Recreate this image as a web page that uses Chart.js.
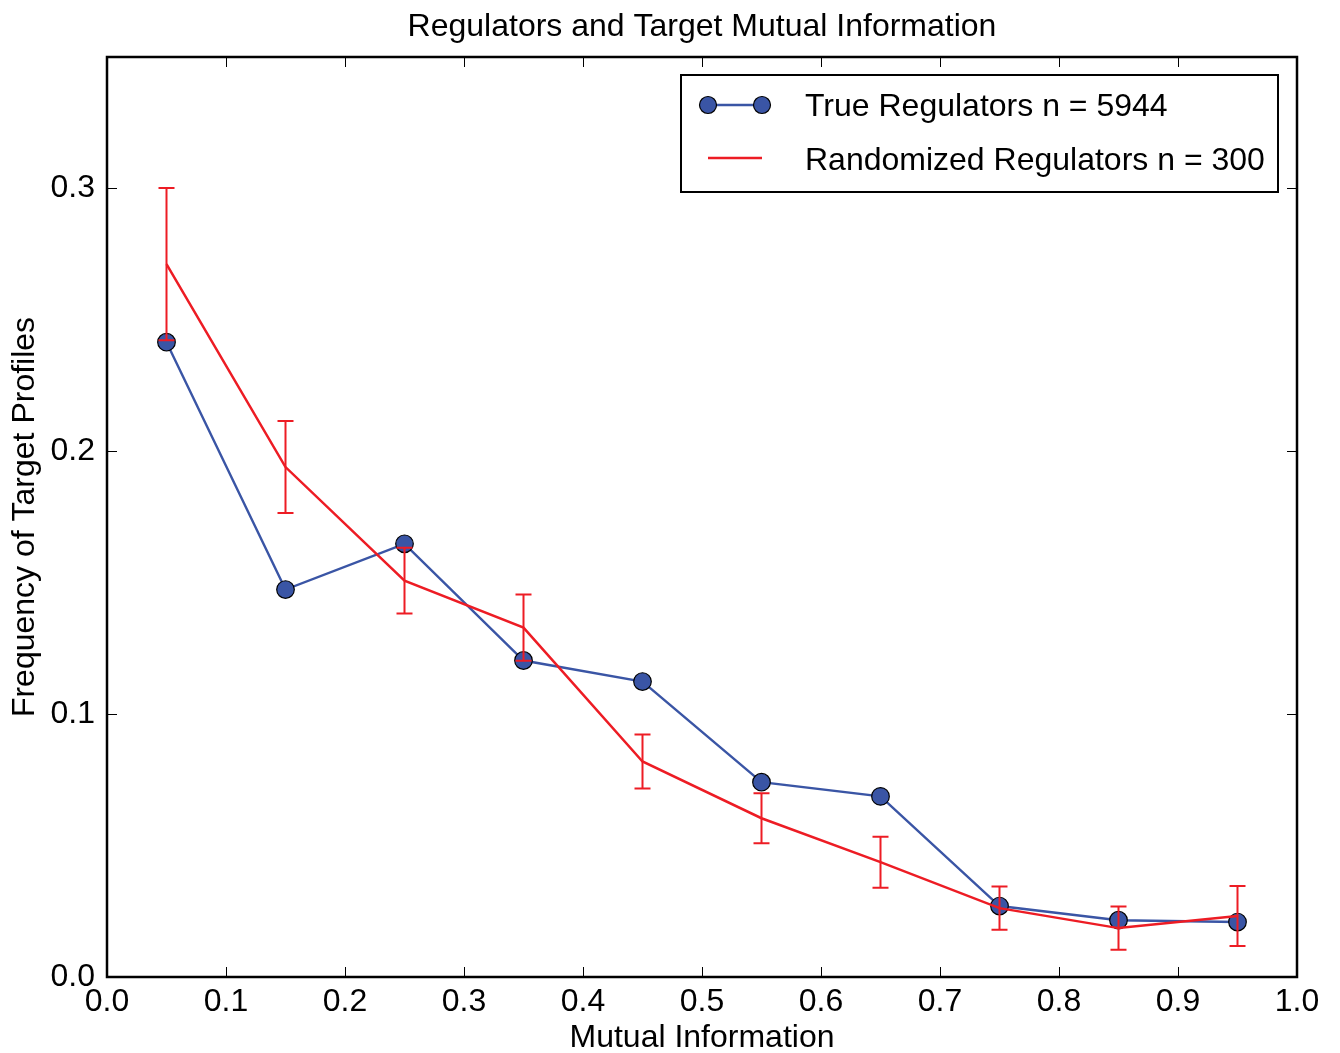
<!DOCTYPE html>
<html>
<head>
<meta charset="utf-8">
<title>Regulators and Target Mutual Information</title>
<script src="https://cdn.jsdelivr.net/npm/chart.js@4.4.1/dist/chart.umd.min.js"></script>
<style>
    html, body { margin: 0; padding: 0; background: #fff; }
    #wrap { width: 1340px; height: 1053px; }
</style>
</head>
<body>
<div id="wrap"><canvas id="chart" width="1340" height="1053"></canvas></div>
<script>
// bin centres on the x axis
const mutualInfo = [0.05, 0.15, 0.25, 0.35, 0.45, 0.55, 0.65, 0.75, 0.85, 0.95];

// true regulators (blue, with markers)
const trueFreq = [0.2415, 0.1474, 0.1648, 0.1204, 0.1124, 0.0741, 0.0687, 0.0270, 0.0216, 0.0209];

// randomized regulators (red) and their error bar half widths
const randomFreq = [0.2712, 0.1940, 0.1508, 0.1329, 0.0820, 0.0604, 0.0437, 0.0262, 0.0186, 0.0232];
const randomErr = [0.0290, 0.0175, 0.0125, 0.0126, 0.0103, 0.0095, 0.0097, 0.0082, 0.0082, 0.0114];

const xTicks = [0.0, 0.1, 0.2, 0.3, 0.4, 0.5, 0.6, 0.7, 0.8, 0.9, 1.0];
const yTicks = [0.0, 0.1, 0.2, 0.3];

const chartTitle = 'Regulators and Target Mutual Information';
const trueLabel = 'True Regulators n = 5944';
const randomLabel = 'Randomized Regulators n = 300';

const FONT = '"Liberation Sans", Arial, Helvetica, sans-serif';
const FSIZE = 32;
const BLUE = '#3a55a5';
const RED = '#ed1c24';

const points = (ys) => mutualInfo.map((x, i) => ({ x: x, y: ys[i] }));

// matplotlib-like inner ticks on all four sides, plus frame and title
const innerTicks = {
    id: 'innerTicks',
    afterDraw(chart) {
        const { ctx, chartArea: a, scales } = chart;
        const len = 10;
        ctx.save();
        ctx.strokeStyle = '#000';
        ctx.lineWidth = 1;
        ctx.beginPath();
        scales.x.ticks.forEach(t => {
            const px = Math.round(scales.x.getPixelForValue(t.value)) + 0.5;
            ctx.moveTo(px, a.bottom); ctx.lineTo(px, a.bottom - len);
            ctx.moveTo(px, a.top); ctx.lineTo(px, a.top + len);
        });
        scales.y.ticks.forEach(t => {
            const py = Math.round(scales.y.getPixelForValue(t.value)) + 0.5;
            ctx.moveTo(a.left, py); ctx.lineTo(a.left + len, py);
            ctx.moveTo(a.right, py); ctx.lineTo(a.right - len, py);
        });
        ctx.stroke();
        ctx.lineWidth = 2.5;
        ctx.strokeRect(a.left, a.top, a.right - a.left, a.bottom - a.top);

        ctx.fillStyle = '#000';
        ctx.font = FSIZE + 'px ' + FONT;
        ctx.textAlign = 'center';
        ctx.textBaseline = 'middle';
        ctx.fillText(chartTitle, (a.left + a.right) / 2, 27);
        ctx.restore();
    }
};

// error bars for the randomized series
const errorBars = {
    id: 'errorBars',
    afterDatasetsDraw(chart) {
        const { ctx, scales } = chart;
        const cap = 8;
        ctx.save();
        ctx.strokeStyle = RED;
        ctx.lineWidth = 2;
        ctx.beginPath();
        mutualInfo.forEach((x, i) => {
            const px = scales.x.getPixelForValue(x);
            const top = scales.y.getPixelForValue(randomFreq[i] + randomErr[i]);
            const bot = scales.y.getPixelForValue(randomFreq[i] - randomErr[i]);
            ctx.moveTo(px, top); ctx.lineTo(px, bot);
            ctx.moveTo(px - cap, top); ctx.lineTo(px + cap, top);
            ctx.moveTo(px - cap, bot); ctx.lineTo(px + cap, bot);
        });
        ctx.stroke();
        ctx.restore();
    }
};

// legend box inside the top right of the plot
const boxLegend = {
    id: 'boxLegend',
    afterDraw(chart) {
        const { ctx, chartArea: a } = chart;
        const w = 597, h = 117;
        const x0 = a.right - 19 - w, y0 = a.top + 18;
        ctx.save();
        ctx.fillStyle = '#fff';
        ctx.fillRect(x0, y0, w, h);
        ctx.strokeStyle = '#000';
        ctx.lineWidth = 2;
        ctx.strokeRect(x0, y0, w, h);

        const lx1 = x0 + 27, lx2 = x0 + 81;
        const r1 = y0 + 30, r2 = y0 + 83;
        ctx.strokeStyle = BLUE;
        ctx.lineWidth = 2.4;
        ctx.beginPath(); ctx.moveTo(lx1, r1); ctx.lineTo(lx2, r1); ctx.stroke();
        [lx1, lx2].forEach(cx => {
            ctx.beginPath();
            ctx.arc(cx, r1, 8.5, 0, Math.PI * 2);
            ctx.fillStyle = BLUE; ctx.fill();
            ctx.strokeStyle = '#000'; ctx.lineWidth = 1.2; ctx.stroke();
        });
        ctx.strokeStyle = RED;
        ctx.lineWidth = 2.5;
        ctx.beginPath(); ctx.moveTo(lx1, r2); ctx.lineTo(lx2, r2); ctx.stroke();

        ctx.fillStyle = '#000';
        ctx.font = FSIZE + 'px ' + FONT;
        ctx.textBaseline = 'middle';
        ctx.textAlign = 'left';
        ctx.fillText(trueLabel, x0 + 124, r1 + 2);
        ctx.fillText(randomLabel, x0 + 124, r2 + 3);
        ctx.restore();
    }
};

new Chart(document.getElementById('chart'), {
    type: 'scatter',
    data: {
        datasets: [
            {
                label: randomLabel,
                data: points(randomFreq),
                showLine: true,
                borderColor: RED,
                borderWidth: 2.5,
                pointRadius: 0,
                pointHoverRadius: 0,
                order: 0
            },
            {
                label: trueLabel,
                data: points(trueFreq),
                showLine: true,
                borderColor: BLUE,
                borderWidth: 2.4,
                pointRadius: 8.8,
                pointBackgroundColor: BLUE,
                pointBorderColor: '#000',
                pointBorderWidth: 1.2,
                order: 1
            }
        ]
    },
    options: {
        responsive: false,
        animation: false,
        events: [],
        layout: { padding: { left: 0, right: 43, top: 57, bottom: 0 } },
        plugins: {
            legend: { display: false },
            tooltip: { enabled: false },
            title: { display: false }
        },
        scales: {
            x: {
                type: 'linear',
                min: 0,
                max: 1,
                afterBuildTicks: s => { s.ticks = xTicks.map(v => ({ value: v })); },
                afterFit: s => { s.height = 76; },
                grid: { display: false, drawTicks: false },
                border: { display: false },
                ticks: {
                    color: '#000',
                    padding: 6,
                    maxRotation: 0,
                    font: { family: FONT, size: FSIZE },
                    callback: v => v.toFixed(1)
                },
                title: {
                    display: true,
                    text: 'Mutual Information',
                    color: '#000',
                    padding: { top: 2, bottom: -4 },
                    font: { family: FONT, size: FSIZE }
                }
            },
            y: {
                type: 'linear',
                min: 0,
                max: 0.35,
                afterBuildTicks: s => { s.ticks = yTicks.map(v => ({ value: v })); },
                afterFit: s => { s.width = 107; },
                grid: { display: false, drawTicks: false },
                border: { display: false },
                ticks: {
                    color: '#000',
                    padding: 12,
                    font: { family: FONT, size: FSIZE },
                    callback: v => v.toFixed(1)
                },
                title: {
                    display: true,
                    text: 'Frequency of Target Profiles',
                    color: '#000',
                    padding: { top: 6, bottom: 0 },
                    font: { family: FONT, size: FSIZE }
                }
            }
        }
    },
    plugins: [innerTicks, errorBars, boxLegend]
});
</script>
</body>
</html>
